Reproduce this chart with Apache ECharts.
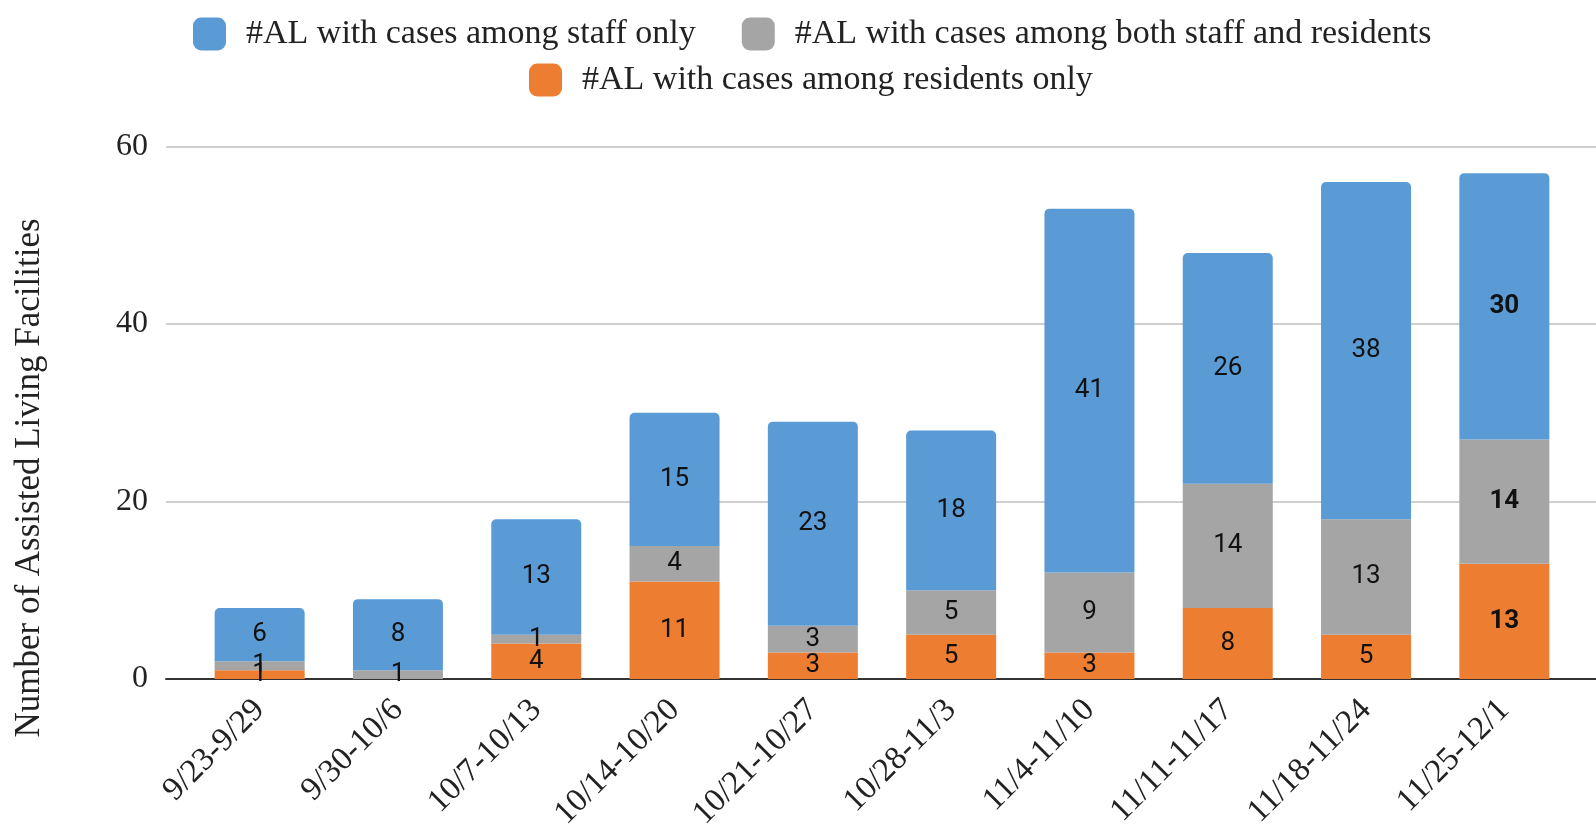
<!DOCTYPE html>
<html>
<head>
<meta charset="utf-8">
<script src="https://cdn.jsdelivr.net/npm/echarts@6/dist/echarts.min.js"></script>
<style>
html,body{margin:0;padding:0;background:#fff;}
#chart{width:1596px;height:837px;}
</style>
</head>
<body>
<div id="chart"></div>
<script>
const categories = ['9/23-9/29','9/30-10/6','10/7-10/13','10/14-10/20','10/21-10/27','10/28-11/3','11/4-11/10','11/11-11/17','11/18-11/24','11/25-12/1'];
const residentsOnly = [1, 0, 4, 11, 3, 5, 3, 8, 5, 13];
const bothStaffResidents = [1, 1, 1, 4, 3, 5, 9, 14, 13, 14];
const staffOnly = [6, 8, 13, 15, 23, 18, 41, 26, 38, 30];
const yTicks = [0, 20, 40, 60];
const boldIndex = 9;

const serif = '"Liberation Serif", "Times New Roman", serif';
const sans = 'Roboto, "Noto Sans", sans-serif';
const BLUE = '#5B9BD5', GRAY = '#A5A5A5', ORANGE = '#ED7D31';

function toItems(arr) {
  return arr.map((v, i) => ({
    value: v,
    label: { show: v > 0, fontWeight: i === boldIndex ? 'bold' : 'normal' }
  }));
}

const barLabel = { show: true, position: 'inside', color: '#111', fontFamily: sans, fontSize: 26 };
const legendText = { fontFamily: serif, fontSize: 34, color: '#222', padding: [0, 0, 0, 15] };

const chart = echarts.init(document.getElementById('chart'));
chart.setOption({
  animation: false,
  backgroundColor: '#fff',
  legend: [
    {
      data: ['#AL with cases among staff only', '#AL with cases among both staff and residents'],
      left: 188, top: 12,
      icon: 'roundRect', itemWidth: 33, itemHeight: 33, itemGap: 46,
      textStyle: legendText
    },
    {
      data: ['#AL with cases among residents only'],
      left: 524, top: 58,
      icon: 'roundRect', itemWidth: 33, itemHeight: 33,
      textStyle: legendText
    }
  ],
  grid: [
    { left: 190.5, right: 22.5, top: 146.5, bottom: 158, containLabel: false },
    { left: 166, right: 0, top: 146.5, bottom: 158, containLabel: false }
  ],
  xAxis: [
    {
      type: 'category', gridIndex: 0, data: categories,
      axisLine: { show: false }, axisTick: { show: false },
      axisLabel: { rotate: 45, margin: 26, fontFamily: serif, fontSize: 33, color: '#222', interval: 0 }
    },
    {
      type: 'value', gridIndex: 1, min: 0, max: 1,
      axisLine: { show: true, onZero: false, lineStyle: { color: '#333', width: 2 } },
      axisTick: { show: false }, axisLabel: { show: false }, splitLine: { show: false }
    }
  ],
  yAxis: [
    {
      type: 'value', gridIndex: 0, min: 0, max: 60, interval: 20, show: false
    },
    {
      type: 'value', gridIndex: 1, min: yTicks[0], max: yTicks[yTicks.length - 1], interval: 20,
      axisLine: { show: false }, axisTick: { show: false },
      axisLabel: { margin: 18, fontFamily: serif, fontSize: 32, color: '#222' },
      splitLine: { lineStyle: { color: '#cfcfcf', width: 2 } }
    }
  ],
  graphic: [
    {
      type: 'text', x: 30, y: 478, rotation: Math.PI / 2,
      style: {
        text: 'Number of Assisted Living Facilities',
        font: '35px "Liberation Serif", "Times New Roman", serif',
        fill: '#222', align: 'center', verticalAlign: 'middle'
      }
    }
  ],
  series: [
    {
      name: '#AL with cases among residents only', type: 'bar', stack: 'a',
      xAxisIndex: 0, yAxisIndex: 0, barWidth: 90, z: 3,
      itemStyle: { color: ORANGE },
      data: toItems(residentsOnly), label: barLabel
    },
    {
      name: '#AL with cases among both staff and residents', type: 'bar', stack: 'a',
      xAxisIndex: 0, yAxisIndex: 0, barWidth: 90, z: 3,
      itemStyle: { color: GRAY },
      data: toItems(bothStaffResidents), label: barLabel
    },
    {
      name: '#AL with cases among staff only', type: 'bar', stack: 'a',
      xAxisIndex: 0, yAxisIndex: 0, barWidth: 90, z: 3,
      itemStyle: { color: BLUE, borderRadius: [5, 5, 0, 0] },
      data: toItems(staffOnly), label: barLabel
    }
  ]
});
</script>
</body>
</html>
